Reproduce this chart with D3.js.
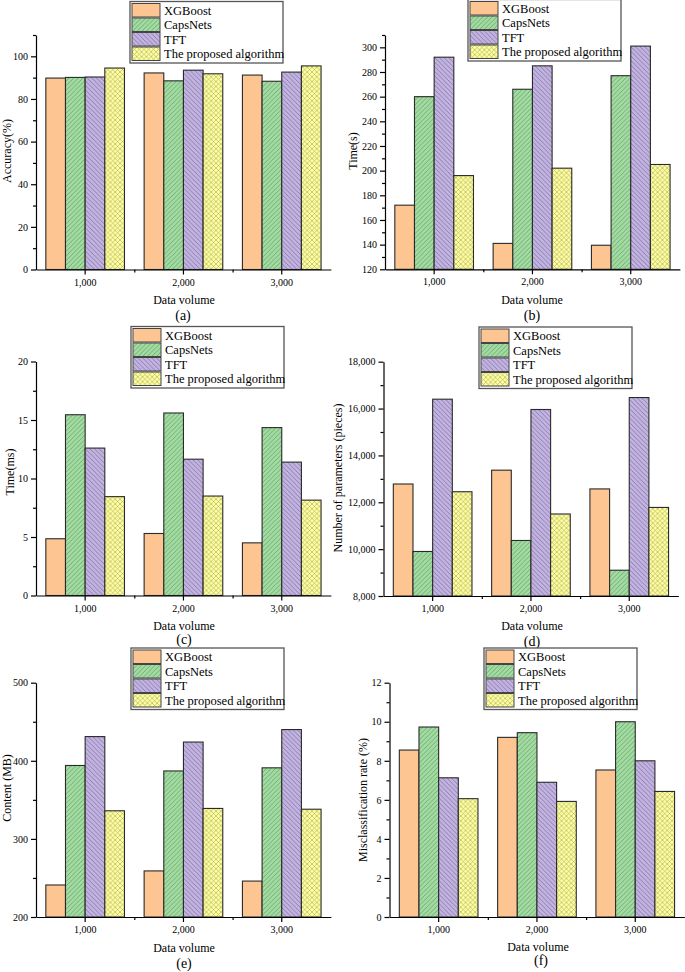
<!DOCTYPE html>
<html>
<head>
<meta charset="utf-8">
<script src="https://cdn.jsdelivr.net/npm/d3@7"></script>
<style>
body { margin: 0; background: #fff; }
svg text { font-family: "Liberation Serif", "Times New Roman", serif; fill: #000; }
</style>
</head>
<body>
<svg id="chart" width="685" height="972"></svg>
<script>
// ---- data ----
const categories = ["1,000", "2,000", "3,000"];
const seriesNames = ["XGBoost", "CapsNets", "TFT", "The proposed algorithm"];

// each row is one series (XGBoost, CapsNets, TFT, proposed), one value per data volume
const accuracy = [
	[89.8, 92.2, 91.2],
	[90.1, 88.5, 88.3],
	[90.3, 93.5, 92.6],
	[94.5, 91.8, 95.5]
];
const timeSec = [
	[172, 141, 139.5],
	[260, 266, 277],
	[292, 285, 301],
	[196, 202, 205]
];
const timeMs = [
	[4.85, 5.3, 4.5],
	[15.45, 15.6, 14.35],
	[12.6, 11.65, 11.4],
	[8.45, 8.5, 8.15]
];
const paramCount = [
	[12780, 13370, 12570],
	[9900, 10370, 9100],
	[16400, 15960, 16470],
	[12450, 11500, 11780]
];
const memoryMB = [
	[241, 259, 246],
	[394, 387, 391],
	[431, 424, 440],
	[336, 339, 338]
];
const errorRate = [
	[8.55, 9.2, 7.53],
	[9.73, 9.44, 10.0],
	[7.13, 6.9, 8.0],
	[6.06, 5.92, 6.43]
];

// tick labels
const accuracyTicks = [0, 20, 40, 60, 80, 100];
const timeSecTicks = [120, 140, 160, 180, 200, 220, 240, 260, 280, 300];
const timeMsTicks = [0, 5, 10, 15, 20];
const paramTicks = [8000, 10000, 12000, 14000, 16000, 18000];
const memoryTicks = [200, 300, 400, 500];
const errorTicks = [0, 2, 4, 6, 8, 10, 12];

// ---- style ----
const FILLS = ["#fdc592", "url(#hatchCaps)", "url(#hatchTFT)", "url(#hatchProp)"];
const GROUP_STEP = 98.3;
const MAJOR_TICK = 5;
const MINOR_TICK = 3;

const svg = d3.select("#chart");
const defs = svg.append("defs");

// diagonal hatch patterns, dir: "/" , "\" or both
function makeHatch(id, bg, line, dirs, size) {
	var p = defs.append("pattern")
		.attr("id", id)
		.attr("patternUnits", "userSpaceOnUse")
		.attr("width", size)
		.attr("height", size);
	p.append("rect").attr("width", size).attr("height", size).attr("fill", bg);
	var s = size;
	dirs.forEach(function(d) {
		var path = d === "/"
			? "M0," + s + " L" + s + ",0 M-1,1 L1,-1 M" + (s - 1) + "," + (s + 1) + " L" + (s + 1) + "," + (s - 1)
			: "M0,0 L" + s + "," + s + " M-1," + (s - 1) + " L1," + (s + 1) + " M" + (s - 1) + ",-1 L" + (s + 1) + ",1";
		p.append("path").attr("d", path).attr("stroke", line).attr("stroke-width", 0.7).attr("fill", "none");
	});
}
makeHatch("hatchCaps", "#a3dca3", "#5b985b", ["/"], 4.6);
makeHatch("hatchTFT", "#c2b3e0", "#76679a", ["\\"], 4.6);
makeHatch("hatchProp", "#ffffa0", "#b2b268", ["/", "\\"], 4.8);

// panel layout (positions only)
const panels = [
	{ data: accuracy, ticks: accuracyTicks, minor: [10, 30, 50, 70, 90, 110], domain: [0, 110],
	  x0: 36, top: 35, bottom: 269.5, ylabel: "Accuracy(%)", ylx: 11, yly: 151,
	  xlx: 184, xly: 304, tag: "(a)", tagx: 183, tagy: 319.5, legend: [130, 1.5] },
	{ data: timeSec, ticks: timeSecTicks, minor: [130, 150, 170, 190, 210, 230, 250, 270, 290, 310], domain: [120, 310],
	  x0: 385, top: 35, bottom: 269.3, ylabel: "Time(s)", ylx: 357, yly: 151,
	  xlx: 532, xly: 304, tag: "(b)", tagx: 532, tagy: 319.5, legend: [468, -0.5] },
	{ data: timeMs, ticks: timeMsTicks, minor: [2.5, 7.5, 12.5, 17.5], domain: [0, 20],
	  x0: 36, top: 361.5, bottom: 595.5, ylabel: "Time(ms)", ylx: 14, yly: 472,
	  xlx: 184, xly: 630, tag: "(c)", tagx: 184, tagy: 644, legend: [131, 326.5] },
	{ data: paramCount, ticks: paramTicks, minor: [9000, 11000, 13000, 15000, 17000], domain: [8000, 18000],
	  x0: 383.5, top: 361.7, bottom: 596, ylabel: "Number of parameters (pieces)", ylx: 342, yly: 478,
	  xlx: 532, xly: 630, tag: "(d)", tagx: 532, tagy: 646, legend: [479, 327], fmt: d3.format(",") },
	{ data: memoryMB, ticks: memoryTicks, minor: [250, 350, 450], domain: [200, 500],
	  x0: 36, top: 682.7, bottom: 917, ylabel: "Content (MB)", ylx: 11, yly: 788,
	  xlx: 184, xly: 952, tag: "(e)", tagx: 184, tagy: 968, legend: [131, 648] },
	{ data: errorRate, ticks: errorTicks, minor: [1, 3, 5, 7, 9, 11], domain: [0, 12],
	  x0: 389.5, top: 682.7, bottom: 917, ylabel: "Misclassification rate (%)", ylx: 367, yly: 800,
	  xlx: 538, xly: 951, tag: "(f)", tagx: 541, tagy: 965, legend: [484, 648] }
];

panels.forEach(drawPanel);

function drawPanel(p) {
	var g = svg.append("g");
	var x1 = p.x0 + GROUP_STEP * categories.length;

	var xScale = d3.scaleBand().domain(categories).range([p.x0, x1]);
	var inner = d3.scaleBand().domain(seriesNames).range([0, xScale.bandwidth()]).paddingOuter(0.5);
	var yScale = d3.scaleLinear().domain(p.domain).range([p.bottom, p.top]);

	// bars
	seriesNames.forEach(function(name, si) {
		g.selectAll(".bar" + si)
			.data(p.data[si])
		  .enter().append("rect")
			.attr("x", function(d, i) { return xScale(categories[i]) + inner(name); })
			.attr("y", function(d) { return yScale(d); })
			.attr("width", inner.bandwidth())
			.attr("height", function(d) { return p.bottom - yScale(d); })
			.attr("fill", FILLS[si])
			.attr("stroke", "#2a2a2a")
			.attr("stroke-width", 1.1);
	});

	// y axis
	var yAxis = d3.axisLeft(yScale)
		.tickValues(p.ticks)
		.tickSize(MAJOR_TICK)
		.tickSizeOuter(0)
		.tickPadding(3)
		.tickFormat(p.fmt || d3.format("d"));
	var ya = g.append("g")
		.attr("transform", "translate(" + p.x0 + ",0)")
		.call(yAxis);
	var ym = g.append("g")
		.attr("transform", "translate(" + p.x0 + ",0)")
		.call(d3.axisLeft(yScale).tickValues(p.minor).tickSize(MINOR_TICK).tickFormat(""));
	ym.select(".domain").remove();

	// x axis
	var xa = g.append("g")
		.attr("transform", "translate(0," + p.bottom + ")")
		.call(d3.axisBottom(xScale).tickSize(MAJOR_TICK).tickSizeOuter(0).tickPadding(4));
	var bounds = d3.scaleLinear().domain([0, categories.length]).range([p.x0, x1]);
	var xm = g.append("g")
		.attr("transform", "translate(0," + p.bottom + ")")
		.call(d3.axisBottom(bounds).tickValues([1, 2]).tickSize(MINOR_TICK).tickFormat(""));
	xm.select(".domain").remove();

	[ya, ym, xa, xm].forEach(function(a) {
		a.selectAll("path, line").attr("stroke", "#000").attr("stroke-width", 1.2);
		a.selectAll("text")
			.style("font-family", "'Liberation Serif', serif")
			.style("font-size", "10px")
			.attr("fill", "#000");
	});

	// axis titles
	g.append("text")
		.attr("transform", "translate(" + p.ylx + "," + p.yly + ") rotate(-90)")
		.attr("text-anchor", "middle")
		.style("font-size", "12px")
		.text(p.ylabel);
	g.append("text")
		.attr("x", p.xlx)
		.attr("y", p.xly)
		.attr("text-anchor", "middle")
		.style("font-size", "12px")
		.text("Data volume");
	g.append("text")
		.attr("x", p.tagx)
		.attr("y", p.tagy)
		.attr("text-anchor", "middle")
		.style("font-size", "14px")
		.text(p.tag);

	drawLegend(p.legend[0], p.legend[1]);
}

function drawLegend(lx, ly) {
	var lg = svg.append("g").attr("transform", "translate(" + lx + "," + ly + ")");
	lg.append("rect")
		.attr("width", 153)
		.attr("height", 61.5)
		.attr("fill", "#fff")
		.attr("stroke", "#555")
		.attr("stroke-width", 1.3);
	var rows = lg.selectAll(".row")
		.data(seriesNames)
	  .enter().append("g")
		.attr("transform", function(d, i) { return "translate(2," + (2 + i * 14.5) + ")"; });
	rows.append("rect")
		.attr("width", 28)
		.attr("height", 13.5)
		.attr("fill", function(d, i) { return FILLS[i]; })
		.attr("stroke", "#444")
		.attr("stroke-width", 1);
	rows.append("text")
		.attr("x", 32)
		.attr("y", 11)
		.style("font-size", "12.5px")
		.text(function(d) { return d; });
}
</script>
</body>
</html>
